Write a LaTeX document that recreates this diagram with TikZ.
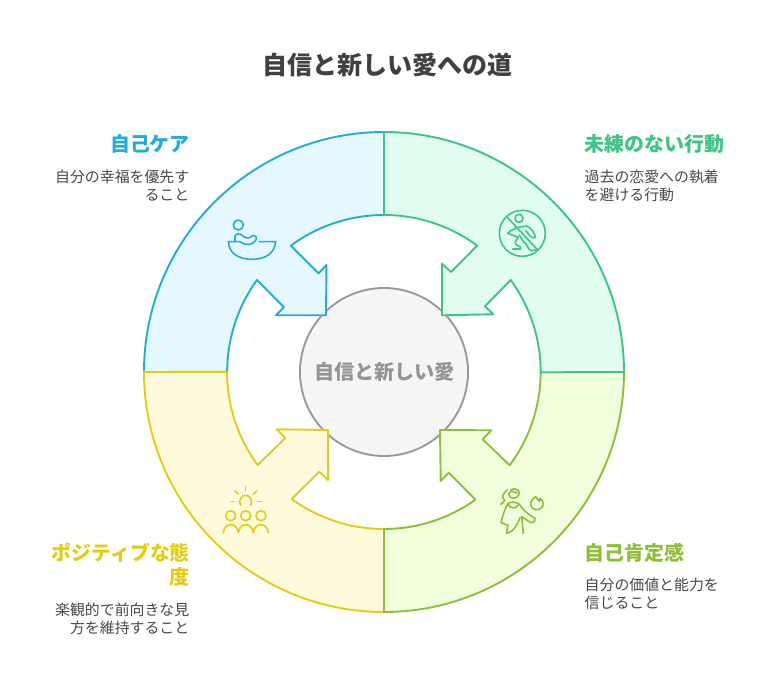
\documentclass[tikz,border=0pt]{standalone}
\usepackage{fontspec}
\setmainfont{Noto Sans CJK JP}
\definecolor{bluel}{HTML}{22ABDD}\definecolor{bluef}{HTML}{E5F8FF}
\definecolor{greenl}{HTML}{3CC583}\definecolor{greenf}{HTML}{E1FDF0}
\definecolor{yellowl}{HTML}{E3CD14}\definecolor{yellowf}{HTML}{FFFADB}
\definecolor{olivel}{HTML}{8FBE3A}\definecolor{olivef}{HTML}{F0FFDC}
\definecolor{bodyc}{HTML}{484848}
\tikzset{
seg/.style={line width=1.9pt,line join=round},
ico/.style={line width=1.6pt,line cap=round,line join=round},
head/.style={font=\fontsize{19.9}{24}\selectfont\bfseries,inner sep=0pt},
txt/.style={font=\fontsize{14.9}{18}\selectfont,text=bodyc,inner sep=0pt}
}
\begin{document}
\begin{tikzpicture}[x=1pt,y=1pt]
\useasboundingbox (-384,-312) rectangle (390,372);
\node[circle,draw=black!40,fill=black!4,line width=1.9pt,minimum size=168pt,inner sep=0pt] (core) at (0,0) {};
\draw[seg,draw=bluel,fill=bluef] (-240,0) arc (180:90:240) -- (0,157) arc (90:126.4:157) -- (-65.5,98.7) -- (-57.5,107) -- (-58,56.7) -- (-108,56.7) -- (-100,64.7) -- (-127,92) arc (144.1:180:157) -- cycle;
\draw[seg,draw=yellowl,fill=yellowf] (-240,0) arc (180:270:240) -- (0,-157) arc (270:234:157) -- (-64.7,-99.7) -- (-56,-108) -- (-56,-58) -- (-107.3,-57.3) -- (-98.7,-66) -- (-126.3,-93) arc (216.4:180:157) -- cycle;
\draw[seg,draw=olivel,fill=olivef] (240,0) arc (0:-90:240) -- (0,-157) arc (270:305.6:157) -- (64.7,-100.7) -- (56.7,-109) -- (56,-58) -- (107.3,-58.3) -- (98.7,-67.3) -- (125.7,-93.3) arc (-36.6:0:157) -- cycle;
\draw[seg,draw=greenl,fill=greenf] (240,0) arc (0:90:240) -- (0,157) arc (90:53.6:157) -- (67,100) -- (58,108.3) -- (58,56.7) -- (109.3,57.7) -- (101,65.7) -- (126.7,92) arc (36:0:157) -- cycle;
\node[font=\fontsize{20.1}{24}\selectfont\bfseries,text=black!42,inner sep=0pt] (corelabel) at (0.5,0) {自信と新しい愛};
\begin{scope}[shift={(-384,372)},x=1pt,y=-1pt]
\node[font=\fontsize{25}{30}\selectfont\bfseries,text=black!75,inner sep=0pt] (title) at (388,64.7) {自信と新しい愛への道};
\node[head,text=bluel,anchor=east] (selfcare) at (190,143.7) {自己ケア};
\node[txt,anchor=east,align=right] (selfcaretxt) at (189.5,185.7) {自分の幸福を優先す\\ること};
\node[head,text=greenl,anchor=west] (noregret) at (584.5,143.7) {未練のない行動};
\node[txt,anchor=west,align=left] (noregrettxt) at (584.5,185.7) {過去の恋愛への執着\\を避ける行動};
\node[head,text=olivel,anchor=west] (affirm) at (584.5,552.7) {自己肯定感};
\node[txt,anchor=west,align=left] (affirmtxt) at (584.5,593.7) {自分の価値と能力を\\信じること};
\node[head,text=yellowl,anchor=east,align=right] (positive) at (190,564.7) {ポジティブな態\\度};
\node[txt,anchor=east,align=right] (positivetxt) at (189.5,618.7) {楽観的で前向きな見\\方を維持すること};
\end{scope}
\begin{scope}[shift={(-169,167)},x=.3333pt,y=-.3333pt,ico,draw=bluel]
\draw (70,60) circle (15);
\draw (132,110) -- (182,110) .. controls (180,145) and (150,163) .. (112,163) .. controls (70,163) and (42,145) .. (40,110) -- (60,110);
\draw (60,108) -- (60,95) .. controls (62,85) and (72,85) .. (80,90) .. controls (90,98) and (100,105) .. (112,92) .. controls (122,88) and (128,100) .. (122,107) .. controls (110,122) and (90,122) .. (75,110) -- (60,110);
\end{scope}
\begin{scope}[shift={(106,172)},x=.3333pt,y=-.3333pt,ico,draw=greenl]
\draw (97,100) circle (69);
\draw (50,50) -- (143,150);
\draw (87,55) circle (12);
\draw (85,82) -- (110,78) .. controls (125,85) and (135,100) .. (136,112) .. controls (128,118) and (118,108) .. (108,92);
\draw (85,82) -- (62,92) -- (53,100) -- (85,112) -- (78,122) .. controls (72,130) and (78,135) .. (90,140) -- (92,147) -- (68,147);
\draw (88,105) -- (100,125) .. controls (112,130) and (112,148) .. (124,152) -- (140,150);
\end{scope}
\begin{scope}[shift={(106,-103)},x=.3333pt,y=-.3333pt,ico,draw=olivel]
\draw (62,45) .. controls (80,35) and (92,50) .. (86,60) .. controls (78,75) and (58,72) .. (56,58) .. controls (58,48) and (72,46) .. (80,55);
\draw (52,45) .. controls (35,58) and (35,68) .. (44,76) .. controls (42,82) and (36,84) .. (32,88);
\draw (55,85) .. controls (42,105) and (38,125) .. (33,142) -- (50,150);
\draw (55,85) .. controls (62,80) and (80,80) .. (88,88) .. controls (95,100) and (115,120) .. (135,130) .. controls (136,140) and (128,146) .. (122,143) -- (95,125) -- (100,175);
\draw (55,88) .. controls (60,102) and (78,102) .. (85,90);
\draw (50,175) .. controls (70,172) and (82,150) .. (90,128);
\draw (50,175) -- (54,148);
\draw (137,65) .. controls (120,75) and (118,92) .. (128,100) .. controls (140,110) and (158,102) .. (160,88) .. controls (160,80) and (156,74) .. (150,70) -- (148,80) -- cycle;
\end{scope}
\begin{scope}[shift={(-169,-108)},x=.3333pt,y=-.3333pt,ico,draw=yellowl]
\draw (77,76) .. controls (68,58) and (82,46) .. (92,46) .. controls (102,46) and (116,58) .. (107,76);
\foreach \p in {47,92,138} \draw (\p,107) circle (15);
\foreach \p in {25,70,115} \draw (\p,158) .. controls (\p+4,126) and (\p+41,126) .. (\p+45,158);
\draw (92,20) -- (92,32);\draw (60,33) -- (70,42);\draw (125,33) -- (115,42);\draw (47,65) -- (58,65);\draw (128,65) -- (138,65);
\end{scope}
\end{tikzpicture}
\end{document}
